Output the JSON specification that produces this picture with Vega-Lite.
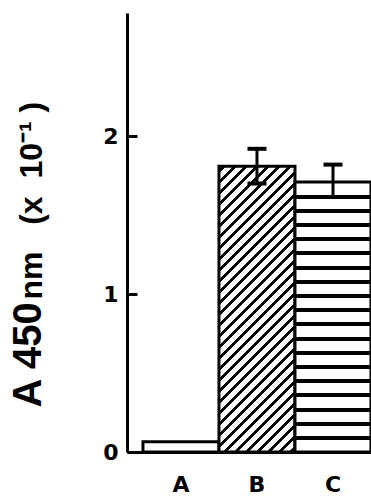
{
  "$schema": "https://vega.github.io/schema/vega-lite/v6.json",
  "autosize": "none",
  "width": 244,
  "height": 439,
  "padding": {"left": 127, "top": 13, "right": 0, "bottom": 46},
  "background": "white",
  "config": {
    "view": {"stroke": null},
    "font": "Liberation Sans",
    "axis": {"grid": false, "domainColor": "black", "domainWidth": 3, "tickColor": "black", "tickWidth": 3, "labelColor": "black", "titleColor": "black", "labelFont": "DejaVu Sans", "titleFont": "Liberation Sans"}
  },
  "data": {
    "values": [
      {"cat": "A", "v": 0.065},
      {"cat": "B", "v": 1.81, "lo": 1.70, "hi": 1.92},
      {"cat": "C", "v": 1.71, "lo": 1.615, "hi": 1.82}
    ]
  },
  "encoding": {
    "x": {
      "field": "cat", "type": "nominal",
      "scale": {"paddingInner": 0, "paddingOuter": 0.105, "align": 1},
      "axis": {
        "labelAngle": 0, "ticks": false, "tickSize": 0, "labelPadding": 22,
        "labelFontSize": 22, "labelFontWeight": "bold",
        "title": "nm\u00a0\u00a0\u00a0(x\u00a0\u00a010⁻¹\u00a0)",
        "titleAngle": 270, "titleAlign": "left", "titleBaseline": "alphabetic",
        "titleX": -86, "titleY": -153, "titleFontSize": 32, "titleFontWeight": "bold"
      }
    }
  },
  "layer": [
    {
      "transform": [{"filter": "datum.cat === 'A'"}],
      "mark": {"type": "bar", "fill": "white", "stroke": "black", "strokeWidth": 3},
      "encoding": {
        "y": {
          "field": "v", "type": "quantitative",
          "scale": {"domain": [0, 2.78], "nice": false, "zero": true},
          "axis": {
            "values": [0, 1, 2], "format": "d", "tickSize": -10, "labelPadding": 19,
            "labelFontSize": 22, "labelFontWeight": "bold",
            "title": "A 450",
            "titleAngle": 270, "titleAlign": "left", "titleBaseline": "alphabetic",
            "titleX": -87, "titleY": 394, "titleFontSize": 40, "titleFontWeight": "bold"
          }
        }
      }
    },
    {
      "transform": [{"filter": "datum.cat === 'B'"}],
      "mark": {
        "type": "bar", "stroke": "black", "strokeWidth": 3,
        "fill": {
          "gradient": "linear", "x1": 0, "y1": 0, "x2": 0.3142, "y2": 1.1823,
          "stops": [
            {"offset": 0, "color": "#fff"},
            {"offset": 0.0095, "color": "#fff"}, {"offset": 0.0095, "color": "#000"}, {"offset": 0.0205, "color": "#000"}, {"offset": 0.0205, "color": "#fff"},
            {"offset": 0.0399, "color": "#fff"}, {"offset": 0.0399, "color": "#000"}, {"offset": 0.0509, "color": "#000"}, {"offset": 0.0509, "color": "#fff"},
            {"offset": 0.0703, "color": "#fff"}, {"offset": 0.0703, "color": "#000"}, {"offset": 0.0813, "color": "#000"}, {"offset": 0.0813, "color": "#fff"},
            {"offset": 0.1007, "color": "#fff"}, {"offset": 0.1007, "color": "#000"}, {"offset": 0.1117, "color": "#000"}, {"offset": 0.1117, "color": "#fff"},
            {"offset": 0.1311, "color": "#fff"}, {"offset": 0.1311, "color": "#000"}, {"offset": 0.1421, "color": "#000"}, {"offset": 0.1421, "color": "#fff"},
            {"offset": 0.1615, "color": "#fff"}, {"offset": 0.1615, "color": "#000"}, {"offset": 0.1725, "color": "#000"}, {"offset": 0.1725, "color": "#fff"},
            {"offset": 0.1919, "color": "#fff"}, {"offset": 0.1919, "color": "#000"}, {"offset": 0.2029, "color": "#000"}, {"offset": 0.2029, "color": "#fff"},
            {"offset": 0.2223, "color": "#fff"}, {"offset": 0.2223, "color": "#000"}, {"offset": 0.2333, "color": "#000"}, {"offset": 0.2333, "color": "#fff"},
            {"offset": 0.2527, "color": "#fff"}, {"offset": 0.2527, "color": "#000"}, {"offset": 0.2637, "color": "#000"}, {"offset": 0.2637, "color": "#fff"},
            {"offset": 0.2831, "color": "#fff"}, {"offset": 0.2831, "color": "#000"}, {"offset": 0.2941, "color": "#000"}, {"offset": 0.2941, "color": "#fff"},
            {"offset": 0.3135, "color": "#fff"}, {"offset": 0.3135, "color": "#000"}, {"offset": 0.3245, "color": "#000"}, {"offset": 0.3245, "color": "#fff"},
            {"offset": 0.3439, "color": "#fff"}, {"offset": 0.3439, "color": "#000"}, {"offset": 0.3549, "color": "#000"}, {"offset": 0.3549, "color": "#fff"},
            {"offset": 0.3743, "color": "#fff"}, {"offset": 0.3743, "color": "#000"}, {"offset": 0.3853, "color": "#000"}, {"offset": 0.3853, "color": "#fff"},
            {"offset": 0.4047, "color": "#fff"}, {"offset": 0.4047, "color": "#000"}, {"offset": 0.4157, "color": "#000"}, {"offset": 0.4157, "color": "#fff"},
            {"offset": 0.4351, "color": "#fff"}, {"offset": 0.4351, "color": "#000"}, {"offset": 0.4461, "color": "#000"}, {"offset": 0.4461, "color": "#fff"},
            {"offset": 0.4655, "color": "#fff"}, {"offset": 0.4655, "color": "#000"}, {"offset": 0.4765, "color": "#000"}, {"offset": 0.4765, "color": "#fff"},
            {"offset": 0.4959, "color": "#fff"}, {"offset": 0.4959, "color": "#000"}, {"offset": 0.5069, "color": "#000"}, {"offset": 0.5069, "color": "#fff"},
            {"offset": 0.5263, "color": "#fff"}, {"offset": 0.5263, "color": "#000"}, {"offset": 0.5373, "color": "#000"}, {"offset": 0.5373, "color": "#fff"},
            {"offset": 0.5567, "color": "#fff"}, {"offset": 0.5567, "color": "#000"}, {"offset": 0.5677, "color": "#000"}, {"offset": 0.5677, "color": "#fff"},
            {"offset": 0.5871, "color": "#fff"}, {"offset": 0.5871, "color": "#000"}, {"offset": 0.5981, "color": "#000"}, {"offset": 0.5981, "color": "#fff"},
            {"offset": 0.6175, "color": "#fff"}, {"offset": 0.6175, "color": "#000"}, {"offset": 0.6285, "color": "#000"}, {"offset": 0.6285, "color": "#fff"},
            {"offset": 0.6479, "color": "#fff"}, {"offset": 0.6479, "color": "#000"}, {"offset": 0.6589, "color": "#000"}, {"offset": 0.6589, "color": "#fff"},
            {"offset": 0.6783, "color": "#fff"}, {"offset": 0.6783, "color": "#000"}, {"offset": 0.6893, "color": "#000"}, {"offset": 0.6893, "color": "#fff"},
            {"offset": 0.7087, "color": "#fff"}, {"offset": 0.7087, "color": "#000"}, {"offset": 0.7197, "color": "#000"}, {"offset": 0.7197, "color": "#fff"},
            {"offset": 0.7391, "color": "#fff"}, {"offset": 0.7391, "color": "#000"}, {"offset": 0.7501, "color": "#000"}, {"offset": 0.7501, "color": "#fff"},
            {"offset": 0.7695, "color": "#fff"}, {"offset": 0.7695, "color": "#000"}, {"offset": 0.7805, "color": "#000"}, {"offset": 0.7805, "color": "#fff"},
            {"offset": 0.7999, "color": "#fff"}, {"offset": 0.7999, "color": "#000"}, {"offset": 0.8109, "color": "#000"}, {"offset": 0.8109, "color": "#fff"},
            {"offset": 0.8303, "color": "#fff"}, {"offset": 0.8303, "color": "#000"}, {"offset": 0.8413, "color": "#000"}, {"offset": 0.8413, "color": "#fff"},
            {"offset": 0.8607, "color": "#fff"}, {"offset": 0.8607, "color": "#000"}, {"offset": 0.8717, "color": "#000"}, {"offset": 0.8717, "color": "#fff"},
            {"offset": 0.8911, "color": "#fff"}, {"offset": 0.8911, "color": "#000"}, {"offset": 0.9021, "color": "#000"}, {"offset": 0.9021, "color": "#fff"},
            {"offset": 0.9215, "color": "#fff"}, {"offset": 0.9215, "color": "#000"}, {"offset": 0.9325, "color": "#000"}, {"offset": 0.9325, "color": "#fff"},
            {"offset": 0.9519, "color": "#fff"}, {"offset": 0.9519, "color": "#000"}, {"offset": 0.9629, "color": "#000"}, {"offset": 0.9629, "color": "#fff"},
            {"offset": 0.9823, "color": "#fff"}, {"offset": 0.9823, "color": "#000"}, {"offset": 0.9933, "color": "#000"}, {"offset": 0.9933, "color": "#fff"},
            {"offset": 1, "color": "#fff"}
          ]
        }
      },
      "encoding": {"y": {"field": "v", "type": "quantitative"}}
    },
    {
      "transform": [{"filter": "datum.cat === 'C'"}],
      "mark": {
        "type": "bar", "stroke": "black", "strokeWidth": 3,
        "fill": {
          "gradient": "linear", "x1": 0, "y1": 0, "x2": 0, "y2": 1,
          "stops": [
            {"offset": 0, "color": "#fff"},
            {"offset": 0.0466, "color": "#fff"}, {"offset": 0.0466, "color": "#000"}, {"offset": 0.0614, "color": "#000"}, {"offset": 0.0614, "color": "#fff"},
            {"offset": 0.0992, "color": "#fff"}, {"offset": 0.0992, "color": "#000"}, {"offset": 0.1140, "color": "#000"}, {"offset": 0.1140, "color": "#fff"},
            {"offset": 0.1518, "color": "#fff"}, {"offset": 0.1518, "color": "#000"}, {"offset": 0.1666, "color": "#000"}, {"offset": 0.1666, "color": "#fff"},
            {"offset": 0.2044, "color": "#fff"}, {"offset": 0.2044, "color": "#000"}, {"offset": 0.2192, "color": "#000"}, {"offset": 0.2192, "color": "#fff"},
            {"offset": 0.2570, "color": "#fff"}, {"offset": 0.2570, "color": "#000"}, {"offset": 0.2718, "color": "#000"}, {"offset": 0.2718, "color": "#fff"},
            {"offset": 0.3096, "color": "#fff"}, {"offset": 0.3096, "color": "#000"}, {"offset": 0.3244, "color": "#000"}, {"offset": 0.3244, "color": "#fff"},
            {"offset": 0.3622, "color": "#fff"}, {"offset": 0.3622, "color": "#000"}, {"offset": 0.3770, "color": "#000"}, {"offset": 0.3770, "color": "#fff"},
            {"offset": 0.4148, "color": "#fff"}, {"offset": 0.4148, "color": "#000"}, {"offset": 0.4296, "color": "#000"}, {"offset": 0.4296, "color": "#fff"},
            {"offset": 0.4674, "color": "#fff"}, {"offset": 0.4674, "color": "#000"}, {"offset": 0.4822, "color": "#000"}, {"offset": 0.4822, "color": "#fff"},
            {"offset": 0.5200, "color": "#fff"}, {"offset": 0.5200, "color": "#000"}, {"offset": 0.5348, "color": "#000"}, {"offset": 0.5348, "color": "#fff"},
            {"offset": 0.5726, "color": "#fff"}, {"offset": 0.5726, "color": "#000"}, {"offset": 0.5874, "color": "#000"}, {"offset": 0.5874, "color": "#fff"},
            {"offset": 0.6252, "color": "#fff"}, {"offset": 0.6252, "color": "#000"}, {"offset": 0.6400, "color": "#000"}, {"offset": 0.6400, "color": "#fff"},
            {"offset": 0.6778, "color": "#fff"}, {"offset": 0.6778, "color": "#000"}, {"offset": 0.6926, "color": "#000"}, {"offset": 0.6926, "color": "#fff"},
            {"offset": 0.7304, "color": "#fff"}, {"offset": 0.7304, "color": "#000"}, {"offset": 0.7452, "color": "#000"}, {"offset": 0.7452, "color": "#fff"},
            {"offset": 0.7830, "color": "#fff"}, {"offset": 0.7830, "color": "#000"}, {"offset": 0.7978, "color": "#000"}, {"offset": 0.7978, "color": "#fff"},
            {"offset": 0.8356, "color": "#fff"}, {"offset": 0.8356, "color": "#000"}, {"offset": 0.8504, "color": "#000"}, {"offset": 0.8504, "color": "#fff"},
            {"offset": 0.8882, "color": "#fff"}, {"offset": 0.8882, "color": "#000"}, {"offset": 0.9030, "color": "#000"}, {"offset": 0.9030, "color": "#fff"},
            {"offset": 0.9408, "color": "#fff"}, {"offset": 0.9408, "color": "#000"}, {"offset": 0.9556, "color": "#000"}, {"offset": 0.9556, "color": "#fff"},
            {"offset": 1, "color": "#fff"}
          ]
        }
      },
      "encoding": {"y": {"field": "v", "type": "quantitative"}}
    },
    {
      "transform": [{"filter": "isValid(datum.lo)"}],
      "mark": {"type": "rule", "color": "black", "strokeWidth": 3},
      "encoding": {"y": {"field": "lo", "type": "quantitative"}, "y2": {"field": "hi"}}
    },
    {
      "transform": [{"filter": "isValid(datum.hi)"}],
      "mark": {"type": "tick", "color": "black", "size": 19, "thickness": 4, "opacity": 1},
      "encoding": {"y": {"field": "hi", "type": "quantitative"}}
    },
    {
      "transform": [{"filter": "isValid(datum.lo)"}],
      "mark": {"type": "tick", "color": "black", "size": 19, "thickness": 4, "opacity": 1},
      "encoding": {"y": {"field": "lo", "type": "quantitative"}}
    }
  ]
}
